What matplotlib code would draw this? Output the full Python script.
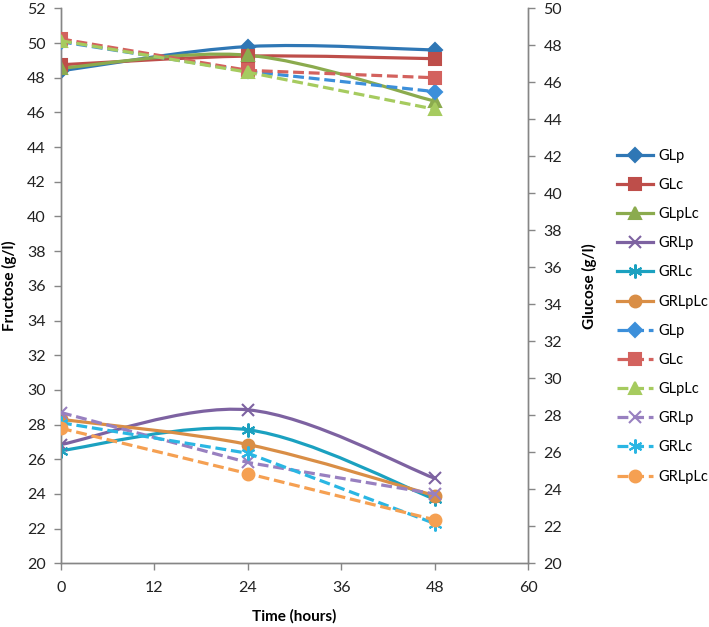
import numpy as np
import matplotlib
matplotlib.use("Agg")
import matplotlib.pyplot as plt
from matplotlib.path import Path
from matplotlib.patches import PathPatch
from matplotlib.lines import Line2D

plt.rcParams['font.family'] = ['Lato', 'DejaVu Sans']

# sampling times (hours)
hours = [0, 24, 48]
series_names = ["GLp", "GLc", "GLpLc", "GRLp", "GRLc", "GRLpLc"]

# fructose (g/l), left axis, smoothed solid lines
fructose_glp = [48.4, 49.8, 49.6]
fructose_glc = [48.75, 49.25, 49.1]
fructose_glplc = [48.55, 49.3, 46.65]
fructose_grlp = [26.85, 28.85, 24.9]
fructose_grlc = [26.5, 27.7, 23.7]
fructose_grlplc = [28.3, 26.85, 23.9]

# glucose (g/l), right axis, dashed lines
glucose_glp = [48.2, 46.6, 45.5]
glucose_glc = [48.35, 46.65, 46.25]
glucose_glplc = [48.25, 46.55, 44.55]
glucose_grlp = [28.15, 25.45, 23.75]
glucose_grlc = [27.6, 25.95, 22.15]
glucose_grlplc = [27.3, 24.85, 22.35]

fructose = [fructose_glp, fructose_glc, fructose_glplc,
            fructose_grlp, fructose_grlc, fructose_grlplc]
glucose = [glucose_glp, glucose_glc, glucose_glplc,
           glucose_grlp, glucose_grlc, glucose_grlplc]

solid_colors = ['#2F77B5', '#BE4E4A', '#8BAB4E', '#7D62A1', '#1BA1C0', '#D98E46']
dash_colors = ['#3C8FDA', '#D3625E', '#A6CB5F', '#9880C0', '#2AB6E3', '#F5A052']
markers = ['D', 's', '^', 'x', (6, 2, 0), 'o']
msizes = [7, 8, 8.5, 9, 10, 8.5]

LW = 2.3
DASH = (0, (3.4, 1.5))


def smooth_path(xs, ys):
    # Excel-style smoothed line as cubic bezier segments
    pts = np.column_stack([xs, ys]).astype(float)
    n = len(pts)
    verts = [pts[0]]
    codes = [Path.MOVETO]
    for i in range(n - 1):
        p0 = pts[max(i - 1, 0)]
        p1 = pts[i]
        p2 = pts[i + 1]
        p3 = pts[min(i + 2, n - 1)]
        c1 = p1 + (p2 - p0) / 6.0
        c2 = p2 - (p3 - p1) / 6.0
        verts += [c1, c2, p2]
        codes += [Path.CURVE4] * 3
    return Path(verts, codes)


fig = plt.figure(figsize=(7.09, 6.27), dpi=100)
ax = fig.add_axes([0.086, 0.1016, 0.659, 0.885])
ax2 = ax.twinx()

for vals, c, m, ms in zip(fructose, solid_colors, markers, msizes):
    ax.add_patch(PathPatch(smooth_path(hours, vals), fill=False,
                           edgecolor=c, lw=LW, zorder=2))
    ax.plot(hours, vals, linestyle='none', marker=m, ms=ms, color=c,
            mew=1.5, zorder=3)

for vals, c, m, ms in zip(glucose, dash_colors, markers, msizes):
    ax2.plot(hours, vals, linestyle=DASH, lw=LW, marker=m, ms=ms, color=c,
             mew=1.5, zorder=3)

ax.set_xlim(0, 60)
ax.set_ylim(20, 52)
ax2.set_ylim(20, 50)
ax.set_xticks(np.arange(0, 61, 12))
ax.set_yticks(np.arange(20, 53, 2))
ax2.set_yticks(np.arange(20, 51, 2))

axis_color = '#868686'
for a in (ax, ax2):
    a.spines['top'].set_visible(False)
    for s in ('left', 'right', 'bottom'):
        a.spines[s].set_color(axis_color)
        a.spines[s].set_linewidth(1.0)
    a.tick_params(colors=axis_color, labelcolor='#222222', labelsize=11.5,
                  length=5, width=1.0, direction='out')
ax.tick_params(axis='x', pad=8)
ax.tick_params(axis='y', pad=6)
ax2.tick_params(axis='y', pad=6)

ax.set_xlabel("Time (hours)", fontsize=11, fontweight='bold', labelpad=10)
ax.set_ylabel("Fructose (g/l)", fontsize=11, fontweight='bold', labelpad=7)
ax2.set_ylabel("Glucose (g/l)", fontsize=11, fontweight='bold', rotation=90,
               labelpad=14)

handles = []
for c, m, ms in zip(solid_colors, markers, msizes):
    handles.append(Line2D([], [], color=c, lw=LW, marker=m, ms=ms, mew=1.5))
for c, m, ms in zip(dash_colors, markers, msizes):
    handles.append(Line2D([], [], color=c, lw=LW, linestyle=DASH, marker=m,
                          ms=ms, mew=1.5))
labels = series_names + series_names
fig.legend(handles, labels, loc='upper left', bbox_to_anchor=(0.862, 0.772),
           frameon=False, fontsize=10.5, handlelength=2.5, handletextpad=0.35,
           labelspacing=1.04, borderaxespad=0)

fig.savefig("out.png", dpi=100)
